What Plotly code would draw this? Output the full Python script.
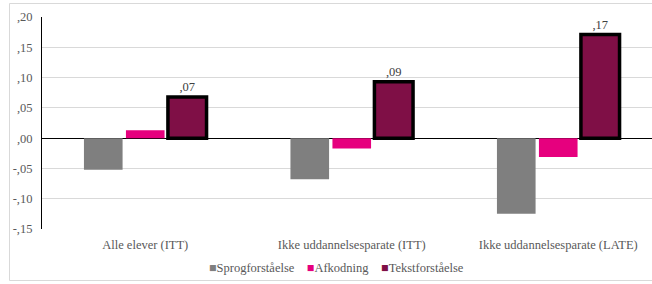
import plotly.graph_objects as go

categories = ["Alle elever (ITT)", "Ikke uddannelsesparate (ITT)", "Ikke uddannelsesparate (LATE)"]
sprog = [-0.052, -0.068, -0.125]
afkodning = [0.013, -0.017, -0.031]
tekst = [0.068, 0.093, 0.171]
tekst_labels = [",07", ",09", ",17"]
ytick_vals = [-0.15, -0.10, -0.05, 0.0, 0.05, 0.10, 0.15, 0.20]
ytick_text = ["-,15", "-,10", "-,05", ",00", ",05", ",10", ",15", ",20"]
series_names = ["Sprogforståelse", "Afkodning", "Tekstforståelse"]
series_colors = ["#7f7f7f", "#e6007e", "#7f0f46"]

font_fam = "Liberation Serif, Times New Roman, serif"
fs = 12.5

fig = go.Figure()
fig.add_trace(go.Bar(name=series_names[0], x=categories, y=sprog,
                     marker=dict(color=series_colors[0], line=dict(width=0))))
fig.add_trace(go.Bar(name=series_names[1], x=categories, y=afkodning,
                     marker=dict(color=series_colors[1], line=dict(width=0))))
fig.add_trace(go.Bar(name=series_names[2], x=categories, y=tekst,
                     marker=dict(color=series_colors[2], line=dict(width=3.5, color="#000000")),
                     text=tekst_labels, textposition="outside", cliponaxis=False,
                     textfont=dict(family=font_fam, size=fs, color="#404040")))

l, r, t, b = 42, 0, 17, 55
W, H = 652, 284
pw, ph = W - l - r, H - t - b
cat_pitch = 206.5
x_end = -0.5 + pw / cat_pitch

def px_to_paper_x(x):
    return (x - l) / pw

def px_to_paper_y(y):
    return (H - b - y) / ph

sep = "&nbsp;" * 4
legend_text = sep.join(
    f"<span style='color:{c}'>■</span>{n}" for n, c in zip(series_names, series_colors))

fig.update_layout(
    width=W, height=H,
    margin=dict(l=l, r=r, t=t, b=b, autoexpand=False),
    paper_bgcolor="white", plot_bgcolor="white",
    barmode="group", bargap=0.39, bargroupgap=0.08,
    font=dict(family=font_fam, size=fs, color="#595959"),
    showlegend=False,
    xaxis=dict(showline=False, ticks="", showgrid=False, automargin=False,
               range=[-0.5, x_end], ticklabelstandoff=6,
               tickfont=dict(family=font_fam, size=fs, color="#595959")),
    yaxis=dict(range=[-0.15, 0.20], tickvals=ytick_vals, ticktext=ytick_text,
               automargin=False, ticklabelstandoff=6,
               showgrid=True, gridcolor="#d9d9d9", gridwidth=1,
               zeroline=True, zerolinecolor="#000000", zerolinewidth=1,
               showline=True, linecolor="#000000", linewidth=1,
               ticks="", ticklen=0,
               tickfont=dict(family=font_fam, size=fs, color="#595959")),
    annotations=[dict(text=legend_text, xref="paper", yref="paper",
                      x=px_to_paper_x(336), y=px_to_paper_y(268),
                      xanchor="center", yanchor="middle", showarrow=False,
                      font=dict(family=font_fam, size=fs, color="#595959"))],
    shapes=[dict(type="rect", xref="paper", yref="paper",
                 x0=px_to_paper_x(9.5), x1=px_to_paper_x(670),
                 y0=px_to_paper_y(280.5), y1=px_to_paper_y(3.5),
                 line=dict(color="#d9d9d9", width=1), fillcolor="rgba(0,0,0,0)",
                 layer="below")],
)

fig.write_html("out.html", config={"displayModeBar": False},
               post_script="document.body.style.margin='0';document.body.style.overflow='hidden';")
